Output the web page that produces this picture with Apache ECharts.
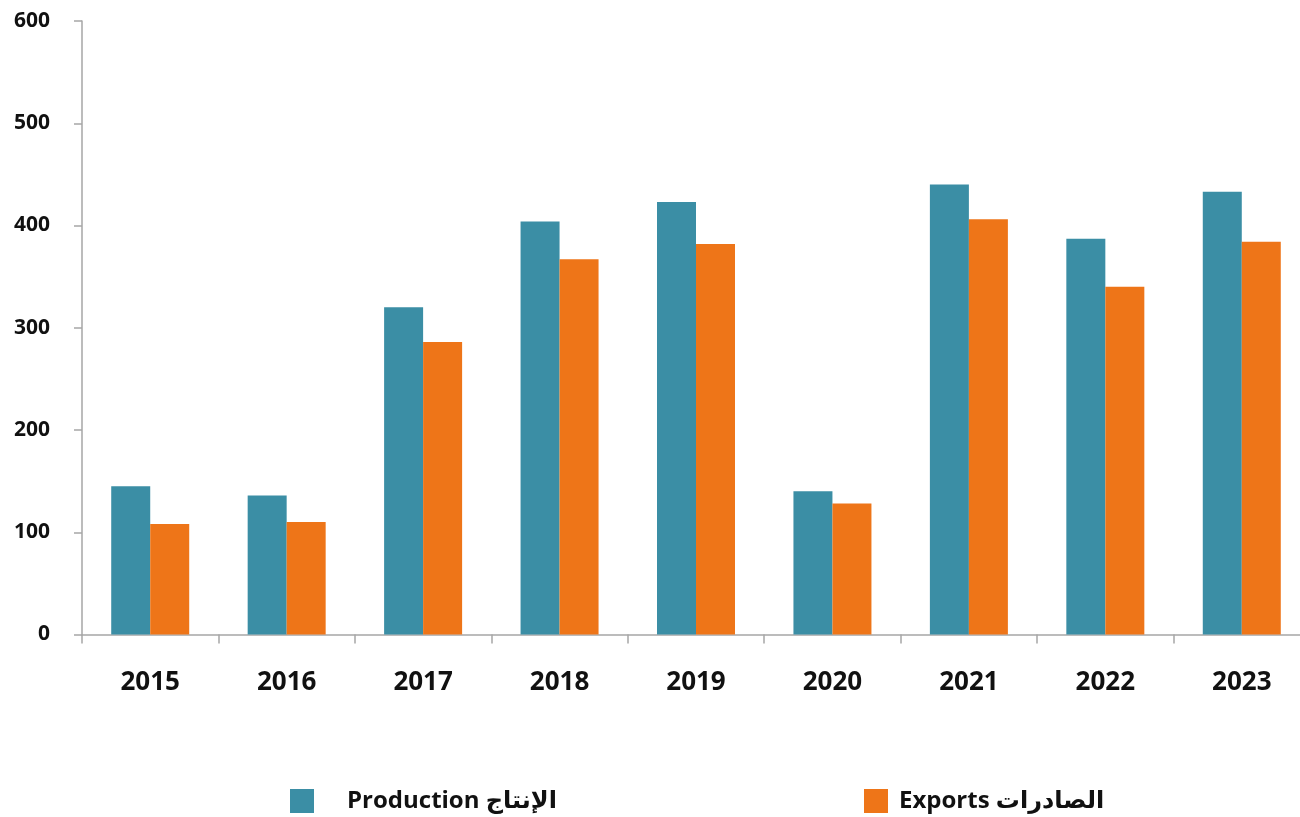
<!DOCTYPE html>
<html>
<head>
<meta charset="utf-8">
<script src="https://cdn.jsdelivr.net/npm/echarts@6/dist/echarts.min.js"></script>
<style>
html,body{margin:0;padding:0;background:#fff;}
#chart{width:1300px;height:817px;}
</style>
</head>
<body>
<div id="chart"></div>
<script>
const categories = ['2015','2016','2017','2018','2019','2020','2021','2022','2023'];
const production = [145,136,320,404,423,140,440,387,433];
const exportsData = [108,110,286,367,382,128,406,340,384];
const seriesNames = ['Production الإنتاج','Exports الصادرات'];
const yTicks = { min: 0, max: 600, interval: 100 };

const chart = echarts.init(document.getElementById('chart'));
const axisColor = '#a6a6a6';
const fontFam = '"Open Sans", "DejaVu Sans", sans-serif';
chart.setOption({
  animation: false,
  backgroundColor: '#ffffff',
  grid: { left: 82, top: 21, width: 1228, bottom: 182.5, containLabel: false, outerBoundsMode: 'none' },
  legend: [
    {
      left: 290, top: 789, padding: 0, icon: 'rect', itemWidth: 24, itemHeight: 24,
      data: [seriesNames[0]],
      textStyle: { fontSize: 24, fontWeight: 'bold', color: '#111', fontFamily: fontFam, padding: [0,0,16,28] }
    },
    {
      left: 864, top: 789, padding: 0, icon: 'rect', itemWidth: 24, itemHeight: 24,
      data: [seriesNames[1]],
      textStyle: { fontSize: 24, fontWeight: 'bold', color: '#111', fontFamily: fontFam, padding: [0,0,16,6] }
    }
  ],
  xAxis: {
    type: 'category',
    data: categories,
    axisLine: { show: true, lineStyle: { color: axisColor, width: 1.5 } },
    axisTick: { show: true, length: 9, lineStyle: { color: axisColor, width: 1.5 } },
    axisLabel: { fontSize: 26, fontWeight: 'bold', color: '#111', fontFamily: fontFam, margin: 35 },
    splitLine: { show: false }
  },
  yAxis: {
    type: 'value',
    min: yTicks.min, max: yTicks.max, interval: yTicks.interval,
    axisLine: { show: true, lineStyle: { color: axisColor, width: 1.5 } },
    axisTick: { show: true, length: 8, lineStyle: { color: axisColor, width: 1.5 } },
    axisLabel: { fontSize: 21, fontWeight: 'bold', color: '#111', fontFamily: fontFam, margin: 32 },
    splitLine: { show: false }
  },
  series: [
    { name: seriesNames[0], type: 'bar', data: production, barWidth: 39, barGap: '0%',
      itemStyle: { color: '#3b8ea5' } },
    { name: seriesNames[1], type: 'bar', data: exportsData, barWidth: 39, barGap: '0%',
      itemStyle: { color: '#ee7518' } }
  ]
});
</script>
</body>
</html>
